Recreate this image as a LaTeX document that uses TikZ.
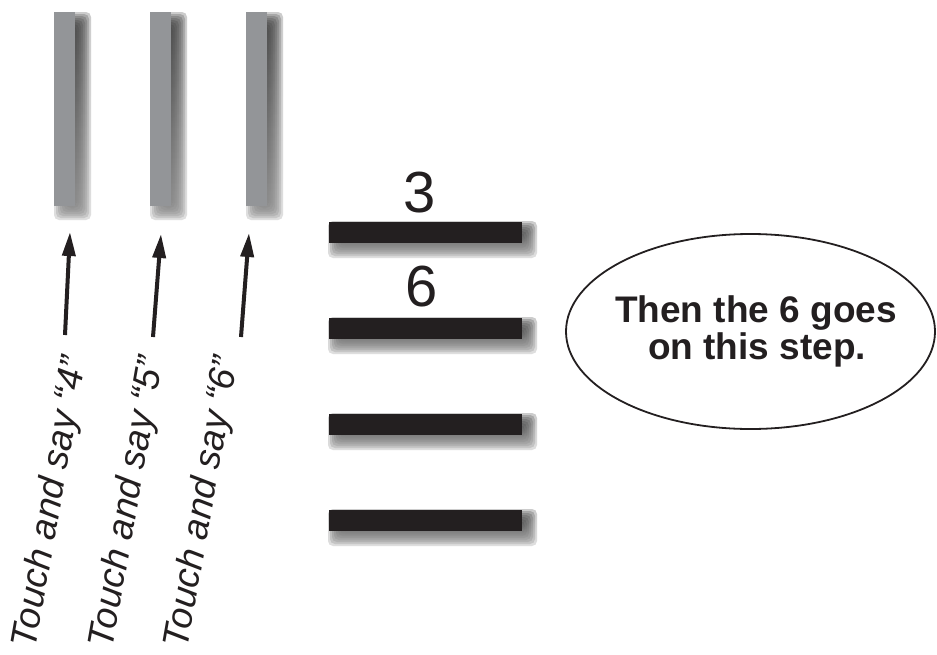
\documentclass[tikz,border=0pt]{standalone}
\usepackage{fontspec}
\setmainfont{Liberation Sans}
\usetikzlibrary{arrows.meta,shapes.geometric}
\definecolor{ink}{HTML}{231F20}
\definecolor{rodgray}{HTML}{939598}
\definecolor{shade}{HTML}{58595B}
\newcommand{\softshadow}[4]{%
  \foreach \k in {-8,-6,...,8} {\fill[shade,opacity=0.15,rounded corners=5pt] (#1+\k,#2+\k) rectangle (#3-\k,#4-\k);}}
\tikzset{
  rod/.style={fill=rodgray, draw=none, minimum width=21pt, minimum height=194pt, inner sep=0pt},
  stepbar/.style={fill=ink, draw=none, minimum width=193pt, minimum height=21pt, inner sep=0pt},
  pointer/.style={draw=ink, line width=4pt, -{Triangle[length=24pt,width=13pt]}},
  touchtext/.style={font=\itshape\fontsize{37pt}{40pt}\selectfont, text=ink, inner sep=0pt, anchor=base, rotate=80},
  digit/.style={font=\fontsize{58pt}{64pt}\selectfont, text=ink, inner sep=0pt, anchor=base},
  bubbletext/.style={font=\bfseries\fontsize{37pt}{42pt}\selectfont, text=ink, inner sep=0pt, anchor=base},
  bubble/.style={ellipse, draw=ink, line width=1.8pt, minimum width=369pt, minimum height=195pt, inner sep=0pt}
}
\begin{document}
\begin{tikzpicture}[x=1pt,y=-1pt]
\useasboundingbox (0,0) rectangle (937,654);
% shadows of rods
\softshadow{62}{20}{83}{212}
\softshadow{158}{20}{179}{212}
\softshadow{254}{20}{275}{212}
% rods
\node[rod] (rod1) at (64.5,109) {};
\node[rod] (rod2) at (160.5,109) {};
\node[rod] (rod3) at (256.5,109) {};
% shadows of steps
\softshadow{336}{229}{529}{250}
\softshadow{336}{325}{529}{346}
\softshadow{336}{421}{529}{442}
\softshadow{336}{517}{529}{538}
% steps
\node[stepbar] (step1) at (425.5,232.5) {};
\node[stepbar] (step2) at (425.5,328.5) {};
\node[stepbar] (step3) at (425.5,424.5) {};
\node[stepbar] (step4) at (425.5,520.5) {};
% digits
\node[digit] (three) at (420,212) {3};
\node[digit] (six) at (422,306) {6};
% arrows
\coordinate (a1s) at (65,335); \coordinate (a1e) at (70,232);
\coordinate (a2s) at (153,337); \coordinate (a2e) at (161,234);
\coordinate (a3s) at (241,337); \coordinate (a3e) at (249,233);
\draw[pointer] (a1s) -- (a1e);
\draw[pointer] (a2s) -- (a2e);
\draw[pointer] (a3s) -- (a3e);
% rotated labels
\node[touchtext] (t4) at (61,504) {Touch and say “4”};
\node[touchtext] (t5) at (138,504) {Touch and say “5”};
\node[touchtext] (t6) at (213,504) {Touch and say “6”};
% bubble
\node[bubble] (bub) at (750.5,331.5) {};
\node[bubbletext] (line1) at (756,322) {Then the 6 goes};
\node[bubbletext] (line2) at (757,359) {on this step.};
\end{tikzpicture}
\end{document}
